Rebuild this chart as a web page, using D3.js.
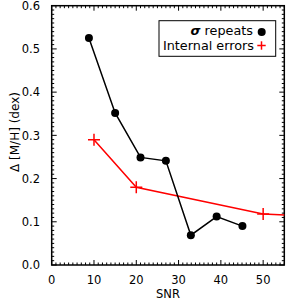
<!DOCTYPE html>
<html><head><meta charset="utf-8">
<script src="https://cdn.jsdelivr.net/npm/d3@7"></script>
<style>body{margin:0;background:#fff}svg{display:block}text{font-family:"DejaVu Sans",Verdana,sans-serif}</style>
</head><body><svg id="c" width="291" height="306"></svg>
<script>
const repeatSNR = [8.8, 15.0, 21.0, 27.0, 32.9, 39.0, 45.1];
const repeatDelta = [0.525, 0.352, 0.249, 0.241, 0.069, 0.112, 0.090];
const internalSNR = [10, 20, 50, 100];
const internalDelta = [0.29, 0.18, 0.118, 0.098];
const xTicks = [0, 10, 20, 30, 40, 50];
const yTicks = [0.0, 0.1, 0.2, 0.3, 0.4, 0.5, 0.6];
const legendLabels = ["\u03c3 repeats", "Internal errors"];

const svg = d3.select("#c");
const L = 51.7, R = 284.3, T = 5.7, B = 265;
const x = d3.scaleLinear().domain([0, 55]).range([L, R]);
const y = d3.scaleLinear().domain([0, 0.6]).range([B, T]);

svg.append("defs").append("clipPath").attr("id", "clip")
  .append("rect").attr("x", L).attr("y", T).attr("width", R - L).attr("height", B - T);

const g = svg.append("g").attr("stroke", "#000").attr("stroke-width", 1);
const xMinor = d3.range(0, 56, 1);
const yMinor = d3.range(0, 0.6001, 0.01);
xMinor.forEach(v => {
  const len = (Math.round(v) % 10 === 0) ? 5 : 2.5;
  g.append("line").attr("x1", x(v)).attr("x2", x(v)).attr("y1", B).attr("y2", B - len);
  g.append("line").attr("x1", x(v)).attr("x2", x(v)).attr("y1", T).attr("y2", T + len);
});
yMinor.forEach(v => {
  const len = (Math.round(v * 100) % 10 === 0) ? 5 : 2.5;
  g.append("line").attr("y1", y(v)).attr("y2", y(v)).attr("x1", L).attr("x2", L + len);
  g.append("line").attr("y1", y(v)).attr("y2", y(v)).attr("x1", R).attr("x2", R - len);
});
svg.append("rect").attr("x", L).attr("y", T).attr("width", R - L).attr("height", B - T)
  .attr("fill", "none").attr("stroke", "#000").attr("stroke-width", 1.5);

svg.append("g").selectAll("text").data(xTicks).join("text")
  .attr("x", d => x(d)).attr("y", 283.5).attr("text-anchor", "middle")
  .attr("font-size", 11.5).text(d => d);
svg.append("g").selectAll("text").data(yTicks).join("text")
  .attr("x", 40).attr("y", d => y(d) + 4.2).attr("text-anchor", "end")
  .attr("font-size", 11.5).text(d => d.toFixed(1));

svg.append("text").attr("x", (L + R) / 2).attr("y", 297.5).attr("text-anchor", "middle")
  .attr("font-size", 11.5).text("SNR");
svg.append("text").attr("transform", `translate(18.5,132) rotate(-90)`)
  .attr("text-anchor", "middle").attr("font-size", 12).text("\u0394 [M/H] (dex)");

const plot = svg.append("g").attr("clip-path", "url(#clip)");
const line = d3.line().x(d => x(d[0])).y(d => y(d[1]));

const rep = repeatSNR.map((s, i) => [s, repeatDelta[i]]);
const intl = internalSNR.map((s, i) => [s, internalDelta[i]]);

plot.append("path").datum(intl).attr("d", line).attr("fill", "none")
  .attr("stroke", "#ff0000").attr("stroke-width", 1.5);
const plus = (sel, px, py, s, col) => {
  sel.append("line").attr("x1", px - s).attr("x2", px + s).attr("y1", py).attr("y2", py).attr("stroke", col).attr("stroke-width", 1.5);
  sel.append("line").attr("x1", px).attr("x2", px).attr("y1", py - s).attr("y2", py + s).attr("stroke", col).attr("stroke-width", 1.5);
};
intl.forEach(d => plus(plot, x(d[0]), y(d[1]), 6, "#ff0000"));

plot.append("path").datum(rep).attr("d", line).attr("fill", "none")
  .attr("stroke", "#000").attr("stroke-width", 1.5);
plot.selectAll("circle").data(rep).join("circle")
  .attr("cx", d => x(d[0])).attr("cy", d => y(d[1])).attr("r", 4).attr("fill", "#000");

const lg = svg.append("g");
lg.append("rect").attr("x", 159).attr("y", 20.7).attr("width", 116.7).attr("height", 35.6)
  .attr("fill", "#fff").attr("stroke", "#000").attr("stroke-width", 1);
lg.append("text").attr("x", 253).attr("y", 35.3).attr("text-anchor", "end").attr("font-size", 12.8)
  .html('<tspan font-style="italic" font-weight="bold">\u03c3</tspan> repeats');
lg.append("text").attr("x", 254).attr("y", 49.5).attr("text-anchor", "end").attr("font-size", 12.8)
  .text(legendLabels[1]);
lg.append("circle").attr("cx", 261.7).attr("cy", 32).attr("r", 4).attr("fill", "#000");
plus(lg, 261.5, 45.5, 4.2, "#ff0000");
</script></body></html>
